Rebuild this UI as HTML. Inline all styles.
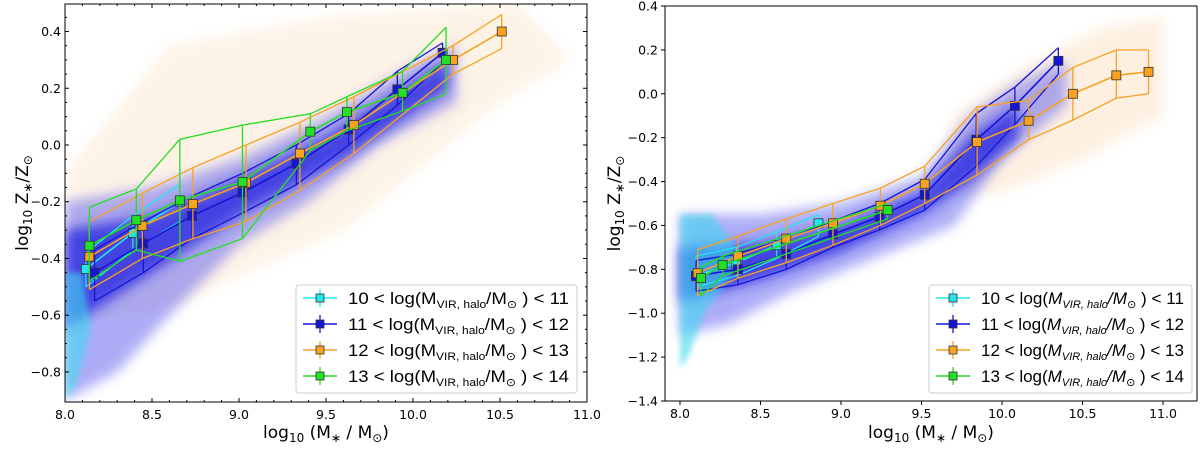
<!DOCTYPE html>
<html><head><meta charset="utf-8"><style>
body{margin:0;background:#fff;}
svg{display:block;font-family:"DejaVu Sans","Liberation Sans",sans-serif;}
</style></head><body>
<svg id="chart" width="1200" height="451" viewBox="0 0 1200 451">
<defs>
<filter id="blur6" x="-20%" y="-20%" width="140%" height="140%"><feGaussianBlur stdDeviation="6"/></filter>
<filter id="blur3" x="-20%" y="-20%" width="140%" height="140%"><feGaussianBlur stdDeviation="3"/></filter>
</defs>
</svg>
<script>
// ---------- data: left panel ----------
const L_cyan_x=[8.12,8.39,8.66];
const L_cyan_y=[-0.437,-0.31,-0.20];
const L_cyan_lo=[-0.50,-0.37,-0.27];
const L_cyan_hi=[-0.38,-0.25,-0.14];
const L_blue_x=[8.17,8.45,8.73,9.02,9.33,9.63,9.91,10.17];
const L_blue_y=[-0.45,-0.347,-0.25,-0.168,-0.066,0.055,0.196,0.325];
const L_blue_lo=[-0.55,-0.45,-0.33,-0.24,-0.14,0.0,0.14,0.29];
const L_blue_hi=[-0.37,-0.27,-0.18,-0.10,0.0,0.11,0.26,0.36];
const L_or_x=[8.14,8.445,8.735,9.04,9.35,9.66,10.23,10.51];
const L_or_y=[-0.394,-0.285,-0.208,-0.133,-0.03,0.07,0.30,0.40];
const L_or_lo=[-0.51,-0.40,-0.33,-0.27,-0.16,-0.03,0.25,0.34];
const L_or_hi=[-0.27,-0.17,-0.08,0.0,0.08,0.17,0.35,0.46];
const L_gr_x=[8.14,8.41,8.66,9.02,9.41,9.62,9.94,10.19];
const L_gr_y=[-0.355,-0.265,-0.195,-0.13,0.047,0.116,0.184,0.30];
const L_gr_lo=[-0.48,-0.37,-0.41,-0.33,-0.02,0.05,0.12,0.18];
const L_gr_hi=[-0.22,-0.155,0.02,0.07,0.11,0.17,0.26,0.415];
// ---------- data: right panel ----------
const R_cyan_x=[8.10,8.35,8.60,8.86];
const R_cyan_y=[-0.83,-0.77,-0.69,-0.59];
const R_cyan_lo=[-0.88,-0.83,-0.75,-0.65];
const R_cyan_hi=[-0.74,-0.70,-0.63,-0.55];
const R_blue_x=[8.10,8.36,8.66,8.95,9.24,9.52,9.84,10.08,10.35];
const R_blue_y=[-0.83,-0.80,-0.73,-0.64,-0.56,-0.46,-0.21,-0.055,0.15];
const R_blue_lo=[-0.90,-0.87,-0.80,-0.70,-0.62,-0.53,-0.33,-0.14,0.09];
const R_blue_hi=[-0.76,-0.73,-0.66,-0.58,-0.50,-0.39,-0.09,0.03,0.21];
const R_or_x=[8.11,8.36,8.66,8.95,9.245,9.52,9.845,10.165,10.44,10.71,10.91];
const R_or_y=[-0.817,-0.74,-0.66,-0.59,-0.51,-0.41,-0.22,-0.123,0.0,0.084,0.10];
const R_or_lo=[-0.92,-0.84,-0.77,-0.69,-0.60,-0.50,-0.37,-0.21,-0.12,-0.02,0.0];
const R_or_hi=[-0.71,-0.65,-0.57,-0.50,-0.43,-0.33,-0.06,-0.03,0.12,0.20,0.20];
const R_gr_x=[8.13,8.265,9.29];
const R_gr_y=[-0.84,-0.78,-0.53];
const R_gr_lo=[-0.92,-0.83,-0.57];
const R_gr_hi=[-0.79,-0.74,-0.50];
// ticks
const L_xticks=[8.0,8.5,9.0,9.5,10.0,10.5,11.0];
const L_yticks=[-0.8,-0.6,-0.4,-0.2,0.0,0.2,0.4];
const R_xticks=[8.0,8.5,9.0,9.5,10.0,10.5,11.0];
const R_yticks=[-1.4,-1.2,-1.0,-0.8,-0.6,-0.4,-0.2,0.0,0.2,0.4];
const legendLabels=["10","11","12","13"];

const NS="http://www.w3.org/2000/svg";
const svg=document.getElementById('chart');
function mk(tag,attrs,parent){const e=document.createElementNS(NS,tag);for(const k in attrs)e.setAttribute(k,attrs[k]);(parent||svg).appendChild(e);return e;}
function fmt(v){const s=v.toFixed(1);return v<0?'\u2212'+s.slice(1):s;}

function panel(cfg){
  const g=mk('g',{});
  
  
  const sx=v=>cfg.x0+(v-cfg.xmin)/(cfg.xmax-cfg.xmin)*(cfg.x1-cfg.x0);
  const sy=v=>cfg.y1-(v-cfg.ymin)/(cfg.ymax-cfg.ymin)*(cfg.y1-cfg.y0);
  const clipId='clip'+cfg.name;
  const cp=mk('clipPath',{id:clipId},g);
  mk('rect',{x:cfg.x0,y:cfg.y0,width:cfg.x1-cfg.x0,height:cfg.y1-cfg.y0},cp);
  const cloud=mk('g',{'clip-path':'url(#'+clipId+')'},g);
  
  
  cfg.clouds.forEach(c=>{
    const pts=c.pts.map(p=>sx(p[0])+','+sy(p[1])).join(' ');
    const pg=mk('polygon',{points:pts,fill:c.color,opacity:c.op,filter:'url(#'+(c.blur||'blur6')+')'},cloud);
    
    
  });
  const ser=mk('g',{'clip-path':'url(#'+clipId+')'},g);
  cfg.series.forEach(s=>{
    const sg=mk('g',{},ser);
    
    
    const line=(ys)=>s.x.map((v,i)=>sx(v)+','+sy(ys[i])).join(' ');
    mk('polyline',{points:line(s.lo),fill:'none',stroke:s.color,'stroke-width':1.3},sg);
    mk('polyline',{points:line(s.hi),fill:'none',stroke:s.color,'stroke-width':1.3},sg);
    mk('polyline',{points:line(s.y),fill:'none',stroke:s.color,'stroke-width':1.6},sg);
    s.x.forEach((v,i)=>{
      mk('line',{x1:sx(v),x2:sx(v),y1:sy(s.lo[i]),y2:sy(s.hi[i]),stroke:s.color,'stroke-width':1.3},sg);
    });
    s.x.forEach((v,i)=>{
      const r=mk('rect',{x:sx(v)-4.5,y:sy(s.y[i])-4.5,width:9,height:9,fill:s.color,stroke:'#333','stroke-width':0.8},sg);
      
      
    });
  });
  const fr=mk('rect',{x:cfg.x0,y:cfg.y0,width:cfg.x1-cfg.x0,height:cfg.y1-cfg.y0,fill:'none',stroke:'#000','stroke-width':1},g);
  
  
  const d=cfg.tickIn?-1:1;
  cfg.xticks.forEach(t=>{
    const X=sx(t);
    mk('line',{x1:X,x2:X,y1:cfg.y1,y2:cfg.y1+4*d,stroke:'#000'},g);
    if(cfg.tickIn) mk('line',{x1:X,x2:X,y1:cfg.y0,y2:cfg.y0+4,stroke:'#000'},g);
    const tx=mk('text',{x:X,y:cfg.y1+17,'text-anchor':'middle','font-size':12.5,fill:'#000'},g);
    tx.textContent=t.toFixed(1);
    
    
    if(cfg.tickIn){for(let k=1;k<5;k++){const m=t+k*0.1;if(m<cfg.xmax){mk('line',{x1:sx(m),x2:sx(m),y1:cfg.y1,y2:cfg.y1-2,stroke:'#000'},g);mk('line',{x1:sx(m),x2:sx(m),y1:cfg.y0,y2:cfg.y0+2,stroke:'#000'},g);}}}
  });
  cfg.yticks.forEach(t=>{
    const Y=sy(t);
    mk('line',{x1:cfg.x0,x2:cfg.x0-4*d,y1:Y,y2:Y,stroke:'#000'},g);
    if(cfg.tickIn) mk('line',{x1:cfg.x1,x2:cfg.x1-4,y1:Y,y2:Y,stroke:'#000'},g);
    const tx=mk('text',{x:cfg.x0-(cfg.tickIn?4:7),y:Y+4.5,'text-anchor':'end','font-size':12.5,fill:'#000'},g);
    tx.textContent=fmt(t);
    
    
    if(cfg.tickIn){for(let k=1;k<4;k++){const m=t+k*0.05;if(m<cfg.ymax){mk('line',{x1:cfg.x0,x2:cfg.x0+2,y1:sy(m),y2:sy(m),stroke:'#000'},g);mk('line',{x1:cfg.x1,x2:cfg.x1-2,y1:sy(m),y2:sy(m),stroke:'#000'},g);}}}
  });
  const xl=mk('text',{x:(cfg.x0+cfg.x1)/2,y:438,'text-anchor':'middle','font-size':17,fill:'#000'},g);
  xl.innerHTML='log<tspan font-size="12" dy="4">10</tspan><tspan dy="-4"> (M</tspan><tspan font-size="12" dy="4">\u2217</tspan><tspan dy="-4"> / M</tspan><tspan font-size="12" dy="4">\u2299</tspan><tspan dy="-4">)</tspan>';
  
  
  const cy=(cfg.y0+cfg.y1)/2;
  const yl=mk('text',{x:0,y:0,'text-anchor':'middle','font-size':17,fill:'#000',transform:'translate('+cfg.ylx+','+cy+') rotate(-90)'},g);
  yl.innerHTML='log<tspan font-size="12" dy="4">10</tspan><tspan dy="-4"> Z</tspan><tspan font-size="12" dy="4">\u2217</tspan><tspan dy="-4">/Z</tspan><tspan font-size="12" dy="4">\u2299</tspan>';
  
  
  const lg=mk('g',{},g);
  
  
  mk('rect',{x:cfg.lx0,y:285,width:cfg.lx1-cfg.lx0,height:108,rx:3,fill:'#fff','fill-opacity':0.85,stroke:'#ccc'},lg);
  cfg.series.forEach((s,i)=>{
    const Y=298+i*26;
    const e=mk('g',{},lg);
    
    
    mk('line',{x1:cfg.lx0+7,x2:cfg.lx0+41,y1:Y,y2:Y,stroke:s.color,'stroke-width':1.6},e);
    mk('line',{x1:cfg.lx0+24,x2:cfg.lx0+24,y1:Y-9,y2:Y+9,stroke:s.color,'stroke-width':1.3},e);
    mk('rect',{x:cfg.lx0+20,y:Y-4,width:8,height:8,fill:s.color,stroke:'#333','stroke-width':0.8},e);
    const t=mk('text',{x:cfg.lx0+52,y:Y+6,'font-size':17,fill:'#000','font-family':'Liberation Sans, sans-serif'},e);
    const lo=legendLabels[i],hi=String(+lo+1);
    const sub=cfg.italic?'<tspan font-style="italic">M</tspan><tspan font-size="11" dy="4" font-style="italic">VIR, halo</tspan><tspan dy="-4" font-style="italic">/M</tspan>':'M<tspan font-size="11" dy="4">VIR, halo</tspan><tspan dy="-4">/M</tspan>';
    t.innerHTML=lo+' &lt; log('+sub+'<tspan font-size="11" dy="4">\u2299</tspan><tspan dy="-4"> ) &lt; '+hi+'</tspan>';
    t.setAttribute('textLength',cfg.lx1-cfg.lx0-60);
    t.setAttribute('lengthAdjust','spacingAndGlyphs');
  });
}

panel({name:'left-panel',x0:65,x1:587,y0:4,y1:402,xmin:8,xmax:11,ymin:-0.906,ymax:0.497,tickIn:true,ylx:28,lx0:296,lx1:577,italic:false,
 xticks:L_xticks,yticks:L_yticks,
 clouds:[
  {color:'#f5b060',op:0.15,pts:[[8.0,-0.1],[8.6,0.35],[9.5,0.45],[10.6,0.5],[10.9,0.3],[10.5,0.15],[9.6,-0.3],[8.5,-0.6],[8.0,-0.6]]},
  {color:'#6a6af0',op:0.55,pts:[[8.0,-0.2],[8.5,-0.15],[9.0,-0.05],[9.5,0.1],[10.0,0.28],[10.25,0.35],[10.25,0.15],[9.8,0.0],[9.4,-0.2],[9.0,-0.35],[8.6,-0.6],[8.3,-0.8],[8.0,-0.9]]},
  {color:'#2020e0',op:0.75,pts:[[8.0,-0.3],[8.5,-0.25],[9.0,-0.12],[9.5,0.03],[10.0,0.22],[10.2,0.3],[10.2,0.2],[9.6,-0.05],[9.0,-0.25],[8.5,-0.45],[8.0,-0.65]]},
  {color:'#40d8f0',op:0.6,blur:'blur3',pts:[[8.0,-0.45],[8.1,-0.45],[8.15,-0.65],[8.06,-0.85],[8.0,-0.9]]}
 ],
 series:[
  {key:'cyan',color:'#22e5f0',x:L_cyan_x,y:L_cyan_y,lo:L_cyan_lo,hi:L_cyan_hi},
  {key:'blue',color:'#1515d8',x:L_blue_x,y:L_blue_y,lo:L_blue_lo,hi:L_blue_hi},
  {key:'orange',color:'#f9a21e',x:L_or_x,y:L_or_y,lo:L_or_lo,hi:L_or_hi},
  {key:'green',color:'#22e022',x:L_gr_x,y:L_gr_y,lo:L_gr_lo,hi:L_gr_hi}
 ]});

panel({name:'right-panel',x0:665,x1:1197,y0:6,y1:401,xmin:7.907,xmax:11.211,ymin:-1.4,ymax:0.4,tickIn:false,ylx:620,lx0:929,lx1:1192,italic:true,
 xticks:R_xticks,yticks:R_yticks,
 clouds:[
  {color:'#f5b060',op:0.18,pts:[[9.7,-0.1],[10.2,0.15],[10.6,0.3],[11.0,0.35],[11.0,-0.1],[10.5,-0.3],[10.0,-0.45],[9.6,-0.45]]},
  {color:'#6a6af0',op:0.55,pts:[[8.0,-0.55],[8.5,-0.55],[9.0,-0.5],[9.5,-0.38],[9.8,-0.1],[10.1,0.05],[10.4,0.15],[10.4,-0.05],[10.0,-0.3],[9.7,-0.6],[9.2,-0.75],[8.7,-0.9],[8.3,-1.05],[8.0,-1.1]]},
  {color:'#2020e0',op:0.75,pts:[[8.0,-0.7],[8.5,-0.68],[9.0,-0.6],[9.5,-0.45],[9.8,-0.2],[10.1,-0.05],[10.1,-0.2],[9.8,-0.4],[9.5,-0.55],[9.0,-0.72],[8.5,-0.85],[8.0,-0.95]]},
  {color:'#40d8f0',op:0.6,blur:'blur3',pts:[[8.0,-0.55],[8.2,-0.55],[8.35,-0.7],[8.3,-0.85],[8.15,-1.0],[8.05,-1.2],[8.0,-1.25]]}
 ],
 series:[
  {key:'cyan',color:'#22e5f0',x:R_cyan_x,y:R_cyan_y,lo:R_cyan_lo,hi:R_cyan_hi},
  {key:'blue',color:'#1515d8',x:R_blue_x,y:R_blue_y,lo:R_blue_lo,hi:R_blue_hi},
  {key:'orange',color:'#f9a21e',x:R_or_x,y:R_or_y,lo:R_or_lo,hi:R_or_hi},
  {key:'green',color:'#22e022',x:R_gr_x,y:R_gr_y,lo:R_gr_lo,hi:R_gr_hi}
 ]});
</script>
</body></html>
